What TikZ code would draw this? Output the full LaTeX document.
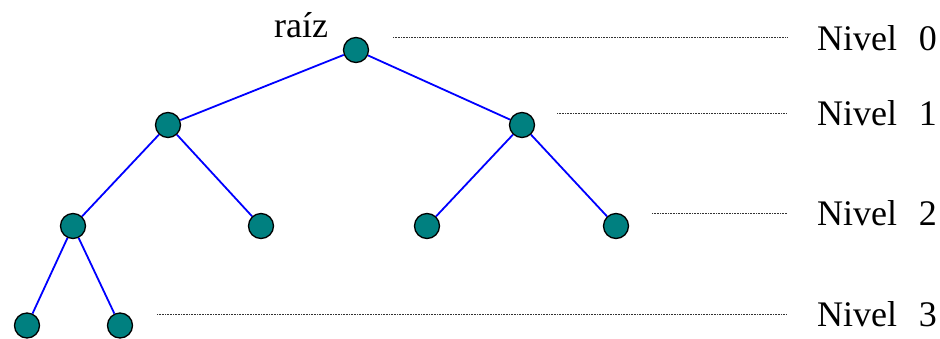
\documentclass[tikz,border=0pt]{standalone}
\usepackage{fontspec}
\setmainfont{Liberation Serif}
\begin{document}
\begin{tikzpicture}[x=1pt,y=-1pt,
  treenode/.style={circle,draw=black,line width=1.3pt,fill={rgb,255:red,0;green,128;blue,128},minimum size=25pt,inner sep=0pt},
  edge/.style={draw={rgb,255:red,0;green,0;blue,255},line width=1.8pt},
  levelline/.style={draw=black!80,line width=0.9pt,dash pattern=on 0.8pt off 0.8pt},
  lbl/.style={font=\fontsize{36}{40}\selectfont,inner sep=0pt,anchor=west}]
\useasboundingbox (0,0) rectangle (940,338);
\node[treenode] (r) at (356,50) {};
\node[treenode] (a) at (168,125) {};
\node[treenode] (b) at (522,125) {};
\node[treenode] (c) at (73,226) {};
\node[treenode] (d) at (261,226) {};
\node[treenode] (e) at (427,226) {};
\node[treenode] (f) at (616,226) {};
\node[treenode] (g) at (27,325.5) {};
\node[treenode] (h) at (120,325.5) {};
\draw[edge] (r) -- (a);
\draw[edge] (r) -- (b);
\draw[edge] (a) -- (c);
\draw[edge] (a) -- (d);
\draw[edge] (b) -- (e);
\draw[edge] (b) -- (f);
\draw[edge] (c) -- (g);
\draw[edge] (c) -- (h);
\node[font=\fontsize{36}{40}\selectfont,inner sep=0pt,anchor=base] (raiz) at (301,37) {raíz};
\node[lbl] (n0) at (817,38) {Nivel\hspace{0.6em}0};
\node[lbl] (n1) at (817,113) {Nivel\hspace{0.6em}1};
\node[lbl] (n2) at (817,213) {Nivel\hspace{0.6em}2};
\node[lbl] (n3) at (817,314) {Nivel\hspace{0.6em}3};
\coordinate (s0) at (393,37);
\coordinate (s1) at (557,113);
\coordinate (s2) at (652,213);
\coordinate (s3) at (157,314);
\draw[levelline] (s0) -- (s0 -| 787,0);
\draw[levelline] (s1) -- (s1 -| 787,0);
\draw[levelline] (s2) -- (s2 -| 787,0);
\draw[levelline] (s3) -- (s3 -| 787,0);
\end{tikzpicture}
\end{document}
